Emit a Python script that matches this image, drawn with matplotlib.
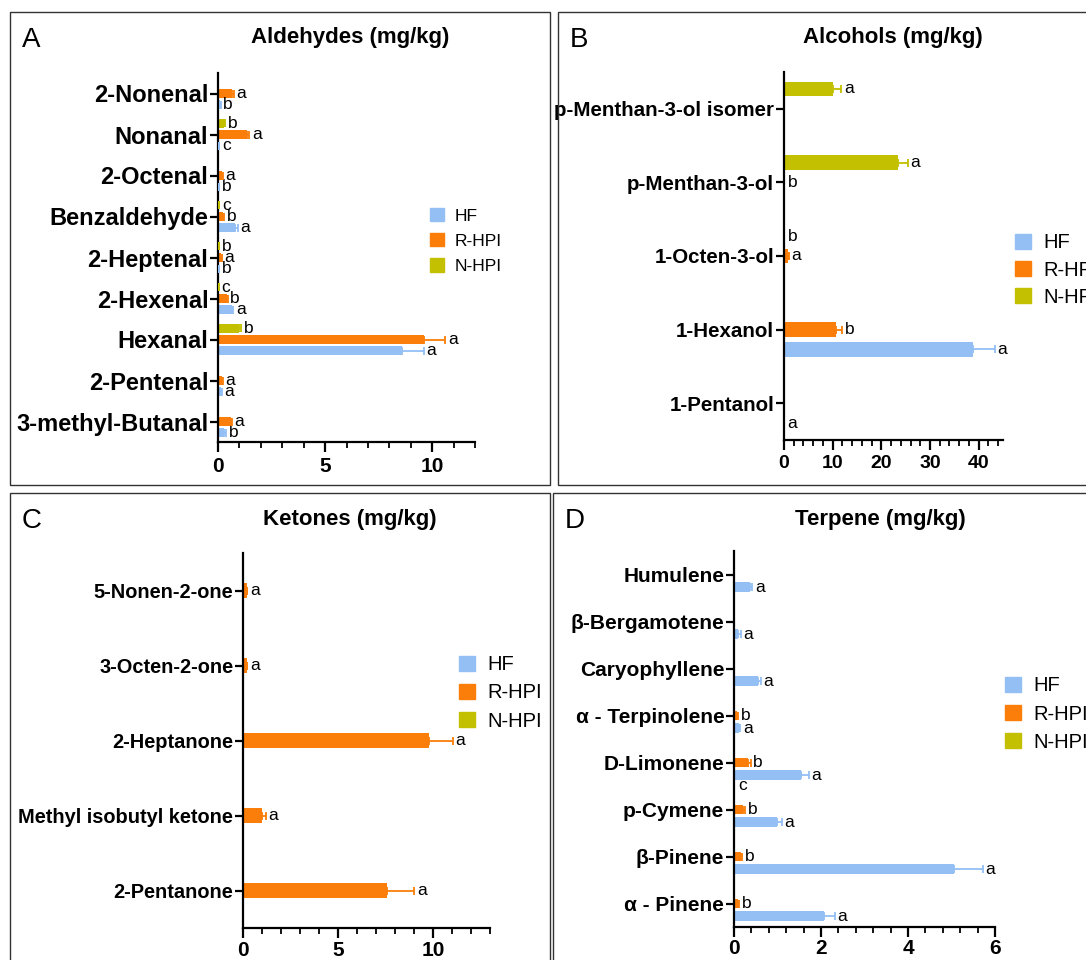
import matplotlib
matplotlib.use('Agg')
import matplotlib.pyplot as plt
import numpy as np
from matplotlib.patches import Rectangle, Patch
from matplotlib.ticker import MultipleLocator

plt.rcParams['font.family'] = ['Liberation Sans', 'DejaVu Sans']

W, H = 1086, 960
C_HF, C_R, C_N = '#93bff5', '#fb7e0a', '#c2c000'
series_names = ['HF', 'R-HPI', 'N-HPI']

# A: aldehydes
A_cats = ['2-Nonenal', 'Nonanal', '2-Octenal', 'Benzaldehyde', '2-Heptenal',
          '2-Hexenal', 'Hexanal', '2-Pentenal', '3-methyl-Butanal']
A_hf = [0.10, 0.05, 0.05, 0.80, 0.05, 0.65, 8.6, 0.15, 0.30]
A_hf_err = [0.02, 0.01, 0.02, 0.12, 0.01, 0.05, 1.0, 0.03, 0.08]
A_hf_let = ['b', 'c', 'b', 'a', 'b', 'a', 'a', 'a', 'b']
A_r = [0.65, 1.35, 0.20, 0.25, 0.15, 0.40, 9.6, 0.20, 0.60]
A_r_err = [0.08, 0.10, 0.03, 0.05, 0.03, 0.05, 1.0, 0.03, 0.05]
A_r_let = ['a', 'a', 'a', 'b', 'a', 'b', 'a', 'a', 'a']
A_n = [0, 0.30, 0, 0.05, 0.03, 0.02, 1.0, 0, 0]
A_n_err = [0, 0.05, 0, 0.01, 0.01, 0.01, 0.08, 0, 0]
A_n_let = [None, 'b', None, 'c', 'b', 'c', 'b', None, None]

# B: alcohols
B_cats = ['p-Menthan-3-ol isomer', 'p-Menthan-3-ol', '1-Octen-3-ol', '1-Hexanol', '1-Pentanol']
B_hf = [0, 0, 0, 38.8, 0.1]
B_hf_err = [0, 0, 0, 4.5, 0]
B_hf_let = [None, None, None, 'a', 'a']
B_r = [0, 0.3, 0.8, 10.7, 0]
B_r_err = [0, 0, 0.2, 1.3, 0]
B_r_let = [None, 'b', 'a', 'b', None]
B_n = [10.1, 23.5, 0.3, 0, 0]
B_n_err = [1.65, 1.9, 0, 0, 0]
B_n_let = ['a', 'a', 'b', None, None]

# C: ketones
C_cats = ['5-Nonen-2-one', '3-Octen-2-one', '2-Heptanone', 'Methyl isobutyl ketone', '2-Pentanone']
C_hf = [0, 0, 0, 0, 0]
C_hf_err = [0, 0, 0, 0, 0]
C_hf_let = [None] * 5
C_r = [0.2, 0.2, 9.8, 1.0, 7.6]
C_r_err = [0.03, 0.03, 1.25, 0.2, 1.4]
C_r_let = ['a', 'a', 'a', 'a', 'a']
C_n = [0, 0, 0.05, 0, 0]
C_n_err = [0, 0, 0, 0, 0]
C_n_let = [None] * 5

# D: terpenes
D_cats = ['Humulene', 'β-Bergamotene', 'Caryophyllene', 'α - Terpinolene',
          'D-Limonene', 'p-Cymene', 'β-Pinene', 'α - Pinene']
D_hf = [0.37, 0.10, 0.55, 0.12, 1.55, 0.98, 5.05, 2.07]
D_hf_err = [0.05, 0.05, 0.07, 0.02, 0.17, 0.12, 0.67, 0.25]
D_hf_let = ['a'] * 8
D_r = [0, 0, 0, 0.08, 0.33, 0.20, 0.15, 0.10]
D_r_err = [0, 0, 0, 0.01, 0.05, 0.05, 0.03, 0.02]
D_r_let = [None, None, None, 'b', 'b', 'b', 'b', 'b']
D_n = [0] * 8
D_n_err = [0] * 8
D_n_let = [None] * 8
D_note = ('D-Limonene', 'c')   # N-HPI letter printed under the HF bar


def fx(x):
    return x / W


def fy(y):
    return 1 - y / H


def panel(fig, box, cats, data, xmax, major, minor, title, title_x, title_y,
          letter, letter_xy, leg_xy, lab_size, leg_size, leg_space, tick_size=15, tick_pad=4):
    # box = (left, top, right, bottom) in pixels
    l, t, r, b = box
    ax = fig.add_axes([fx(l), fy(b), (r - l) / W, (b - t) / H])
    n = len(cats)
    pos = np.arange(n)
    off, h = 0.27, 0.2
    for (vals, errs, lets, col), dy in zip(data, [off, 0, -off]):
        y = pos + dy
        ax.barh(y, vals, height=h, color=col, zorder=2)
        for yi, v, e, lt in zip(y, vals, errs, lets):
            if e > 0:
                ax.errorbar(v, yi, xerr=[[0], [e]], fmt='none', ecolor=col,
                            elinewidth=1.3, capsize=3, capthick=1.3, zorder=3)
            if lt:
                ax.annotate(lt, (v + e, yi), xytext=(2, 0), textcoords='offset points',
                            ha='left', va='center', fontsize=12.5)
    ax.set_ylim(n - 0.5, -0.5)
    ax.set_xlim(0, xmax)
    ax.set_yticks(pos)
    ax.set_yticklabels(cats, fontsize=lab_size, fontweight='bold')
    ax.xaxis.set_major_locator(MultipleLocator(major))
    ax.xaxis.set_minor_locator(MultipleLocator(minor))
    for lb in ax.get_xticklabels():
        lb.set_fontweight('bold')
        lb.set_fontsize(tick_size)
    ax.spines['top'].set_visible(False)
    ax.spines['right'].set_visible(False)
    ax.spines['left'].set_linewidth(1.6)
    ax.spines['bottom'].set_linewidth(1.6)
    ax.tick_params(axis='y', length=6, width=1.6, pad=1)
    ax.tick_params(axis='x', which='major', length=7, width=1.6, pad=tick_pad)
    ax.tick_params(axis='x', which='minor', length=4, width=1.3)
    fig.text(fx(title_x), fy(title_y), title, ha='center', va='center',
             fontsize=16, fontweight='bold')
    fig.text(fx(letter_xy[0]), fy(letter_xy[1]), letter, ha='left', va='center', fontsize=20)
    handles = [Patch(color=c) for c in [C_HF, C_R, C_N]]
    fig.legend(handles, series_names, loc='center left', bbox_to_anchor=(fx(leg_xy[0]), fy(leg_xy[1])),
               frameon=False, fontsize=leg_size, handlelength=0.8, handleheight=0.8,
               handletextpad=0.6, labelspacing=leg_space, borderpad=0, borderaxespad=0)
    return ax


fig = plt.figure(figsize=(W / 100, H / 100), dpi=100)

for (x0, y0, x1, y1) in [(10, 12, 550, 485), (558, 12, 1095, 485),
                         (10, 493, 550, 970), (553, 493, 1095, 970)]:
    fig.patches.append(Rectangle((fx(x0), fy(y1)), (x1 - x0) / W, (y1 - y0) / H,
                                 transform=fig.transFigure, fill=False,
                                 edgecolor='#333333', lw=1.0))

panel(fig, (218, 73, 475, 442), A_cats,
      [(A_hf, A_hf_err, A_hf_let, C_HF), (A_r, A_r_err, A_r_let, C_R), (A_n, A_n_err, A_n_let, C_N)],
      12, 5, 1, 'Aldehydes (mg/kg)', 350, 38, 'A', (22, 40), (430, 241), 17, 12.5, 0.55)

panel(fig, (784, 72, 1003, 440), B_cats,
      [(B_hf, B_hf_err, B_hf_let, C_HF), (B_r, B_r_err, B_r_let, C_R), (B_n, B_n_err, B_n_let, C_N)],
      45, 10, 2, 'Alcohols (mg/kg)', 893, 38, 'B', (570, 40), (1015, 270), 14.8, 14.5, 0.4,
      tick_size=14)

panel(fig, (243, 553, 490, 928), C_cats,
      [(C_hf, C_hf_err, C_hf_let, C_HF), (C_r, C_r_err, C_r_let, C_R), (C_n, C_n_err, C_n_let, C_N)],
      13, 5, 1, 'Ketones (mg/kg)', 350, 519, 'C', (22, 521), (459, 693), 14.4, 14.5, 0.45,
      tick_pad=2)

axD = panel(fig, (734, 551, 995, 927), D_cats,
            [(D_hf, D_hf_err, D_hf_let, C_HF), (D_r, D_r_err, D_r_let, C_R), (D_n, D_n_err, D_n_let, C_N)],
            6, 2, 0.4, 'Terpene (mg/kg)', 880, 519, 'D', (565, 521), (1005, 714), 15, 14.5, 0.45,
            tick_pad=2)
axD.annotate(D_note[1], (0, D_cats.index(D_note[0]) + 0.5), xytext=(3, 0),
             textcoords='offset points', ha='left', va='center', fontsize=12.5)

fig.savefig('out.png', dpi=100)
